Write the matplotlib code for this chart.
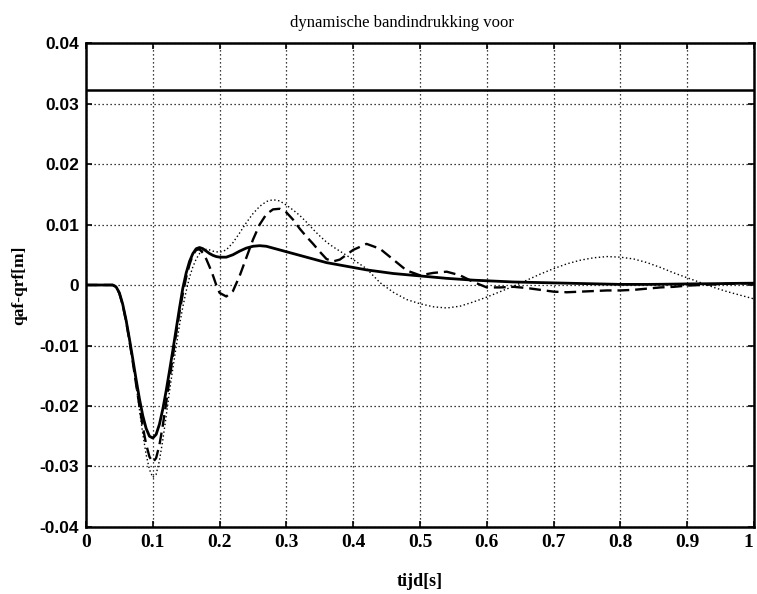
import numpy as np
import matplotlib
matplotlib.use("Agg")
import matplotlib.pyplot as plt
import matplotlib.transforms as mtransforms

# tijdas [s]
t = [0.000, 0.020, 0.040,
     0.045, 0.050, 0.055, 0.060, 0.065, 0.070, 0.075, 0.080,
     0.085, 0.090, 0.095, 0.100, 0.105, 0.110, 0.115, 0.120,
     0.125, 0.130, 0.135, 0.140, 0.145, 0.150, 0.155, 0.160,
     0.165, 0.170, 0.175, 0.180, 0.185, 0.190, 0.195, 0.200,
     0.21, 0.22, 0.23, 0.24, 0.25, 0.26, 0.27, 0.28, 0.29, 0.30,
     0.31, 0.32, 0.33, 0.34, 0.35, 0.36, 0.37, 0.38, 0.39, 0.40,
     0.42, 0.44, 0.46, 0.48, 0.50, 0.52, 0.54, 0.56, 0.58, 0.60,
     0.62, 0.64, 0.66, 0.68, 0.70, 0.72, 0.74, 0.76, 0.78, 0.80,
     0.82, 0.84, 0.86, 0.88, 0.90, 0.92, 0.94, 0.96, 0.98, 1.00]

# qaf-qrf in mm, drie varianten
q_vol = [0.0, 0.0, 0.0,
         -0.3, -1.3, -3.2, -5.8, -8.9, -12.2, -15.6, -18.8,
         -21.6, -23.7, -25.0, -25.3, -24.7, -23.0, -20.5, -17.5,
         -14.2, -10.8, -7.3, -3.8, -0.5, 2.0, 3.9, 5.2,
         6.0, 6.2, 6.0, 5.6, 5.2, 4.9, 4.7, 4.6,
         4.6, 5.0, 5.6, 6.1, 6.4, 6.5, 6.4, 6.1, 5.8, 5.5,
         5.2, 4.9, 4.6, 4.3, 4.0, 3.7, 3.5, 3.3, 3.1, 2.9,
         2.5, 2.2, 1.9, 1.7, 1.5, 1.3, 1.1, 0.95, 0.8, 0.7,
         0.6, 0.5, 0.45, 0.4, 0.35, 0.3, 0.25, 0.2, 0.15, 0.1,
         0.1, 0.1, 0.12, 0.15, 0.18, 0.2, 0.22, 0.25, 0.28, 0.3]

q_streep = [0.0, 0.0, 0.0,
            -0.3, -1.4, -3.3, -6.0, -9.2, -12.7, -16.4, -20.0,
            -23.4, -26.3, -28.4, -29.3, -28.6, -26.4, -23.2, -19.5,
            -15.6, -11.8, -8.0, -4.5, -1.4, 1.3, 3.4, 5.0,
            5.8, 5.9, 5.3, 4.3, 3.0, 1.6, 0.0, -1.3,
            -1.9, -1.0, 1.5, 4.5, 7.5, 10.0, 11.7, 12.5, 12.6, 12.0,
            10.8, 9.3, 8.0, 6.8, 5.5, 4.3, 3.9, 4.2, 5.0, 5.8,
            6.8, 6.0, 4.2, 2.4, 1.6, 2.0, 2.2, 1.6, 0.5, -0.4,
            -0.4, -0.3, -0.5, -0.8, -1.1, -1.2, -1.1, -1.0, -0.9, -0.9,
            -0.8, -0.6, -0.4, -0.3, -0.1, 0.0, 0.1, 0.2, 0.25, 0.3]

q_punt = [0.0, 0.0, 0.0,
          -0.3, -1.2, -3.0, -5.5, -8.7, -12.4, -16.5, -20.6,
          -24.6, -28.0, -30.5, -31.8, -31.3, -29.0, -25.6, -21.7,
          -17.6, -13.8, -10.2, -6.6, -3.6, -1.0, 1.3, 3.0,
          4.3, 5.2, 5.7, 5.9, 5.8, 5.6, 5.5, 5.4,
          5.8, 7.0, 8.6, 10.3, 11.8, 13.0, 13.8, 14.1, 13.9, 13.2,
          12.4, 11.5, 10.4, 9.2, 8.1, 7.1, 6.3, 5.6, 4.9, 4.2,
          2.7, 0.4, -1.2, -2.4, -3.1, -3.6, -3.8, -3.5, -2.8, -2.0,
          -1.1, -0.2, 0.8, 1.8, 2.7, 3.5, 4.1, 4.5, 4.7, 4.6,
          4.3, 3.7, 2.9, 2.0, 1.2, 0.4, -0.4, -1.1, -1.7, -2.3]

# grenswaarde [m]
q_grens = 0.0323

xticks = [0, 0.1, 0.2, 0.3, 0.4, 0.5, 0.6, 0.7, 0.8, 0.9, 1]
xticklabels = ["0", "0.1", "0.2", "0.3", "0.4", "0.5", "0.6", "0.7", "0.8", "0.9", "1"]
yticks = [-0.04, -0.03, -0.02, -0.01, 0, 0.01, 0.02, 0.03, 0.04]
yticklabels = ["-0.04", "-0.03", "-0.02", "-0.01", "0", "0.01", "0.02", "0.03", "0.04"]


def main():
    tt = np.array(t)
    mm = 1e-3

    fig = plt.figure(figsize=(7.57, 5.94), dpi=100)
    ax = fig.add_axes([0.1136, 0.1128, 0.8824, 0.8148])

    ax.plot(tt, np.array(q_punt) * mm, color="black", lw=1.0,
            linestyle=(0, (1, 1.8)))
    ax.plot(tt, np.array(q_streep) * mm, color="black", lw=1.7,
            linestyle=(0, (5, 2.5)))
    ax.plot(tt, np.array(q_vol) * mm, color="black", lw=2.0)
    ax.axhline(q_grens, color="black", lw=1.8)

    ax.set_xlim(0, 1)
    ax.set_ylim(-0.04, 0.04)
    ax.set_xticks(xticks)
    ax.set_xticklabels(xticklabels, family="Liberation Serif",
                       weight="bold", fontsize=14)
    ax.set_yticks(yticks)
    ax.set_yticklabels(yticklabels, family="Liberation Sans",
                       weight="bold", fontsize=12.5)
    ax.tick_params(direction="in", length=4, width=1.2, top=True, right=True,
                   pad=5, color="black")

    # laatste label "1" iets naar links zodat het binnen de figuur valt
    last = ax.get_xticklabels()[-1]
    last.set_transform(last.get_transform() +
                       mtransforms.ScaledTranslation(-4 / 72, 0, fig.dpi_scale_trans))

    ax.grid(True, color="black", lw=0.9, linestyle=(0, (1, 2.2)))
    for s in ax.spines.values():
        s.set_linewidth(1.8)

    ax.set_xlabel("tijd[s]", family="Liberation Serif", weight="bold",
                  fontsize=13, labelpad=16)
    ax.set_ylabel("qaf-qrf[m]", family="Liberation Serif", weight="bold",
                  fontsize=12.5, labelpad=9)
    fig.text(402 / 757, 1 - 23 / 594, "dynamische bandindrukking voor",
             family="Liberation Serif", fontsize=12, ha="center", va="center")

    fig.savefig("out.png", dpi=100)


if __name__ == "__main__":
    main()
